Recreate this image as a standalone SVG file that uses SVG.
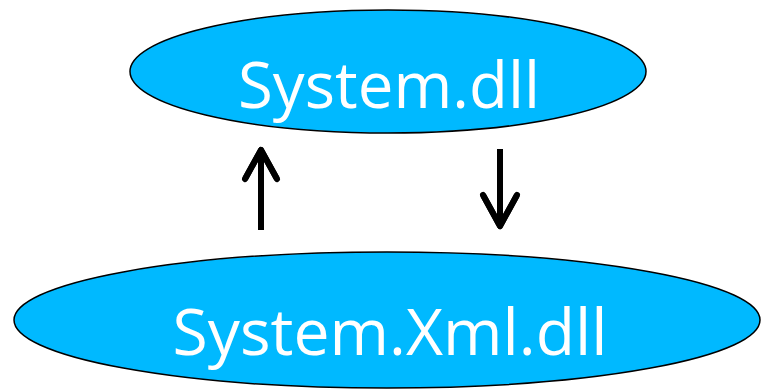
<svg xmlns="http://www.w3.org/2000/svg" width="761" height="390" viewBox="0 0 761 390">
<style>
.node ellipse{fill:#00B9FF;stroke:#000;stroke-width:1.5}
.node text{fill:#fff;font-family:"Open Sans","Liberation Sans",sans-serif;font-size:64px;text-anchor:middle}
.conn{fill:none;stroke:#000;stroke-width:6;stroke-linecap:round;stroke-linejoin:round}
</style>
<rect width="761" height="390" fill="#fff"/>
<g id="system-dll" class="node">
<ellipse cx="388" cy="71.5" rx="258" ry="61.5"/>
<text x="389" y="108" textLength="302" lengthAdjust="spacingAndGlyphs">System.dll</text>
</g>
<g id="system-xml-dll" class="node">
<ellipse cx="387" cy="320" rx="373" ry="68"/>
<text x="390" y="355" textLength="435" lengthAdjust="spacingAndGlyphs">System.Xml.dll</text>
</g>
<g id="connectors">
<path class="conn" d="M261 230 V150 M245 179 L261 150 L277 179" style="stroke-linecap:butt"/>
<path class="conn" d="M245 179 L261 150 L277 179"/>
<path class="conn" d="M500 149 V226 M483 195 L500 226 L517 195" style="stroke-linecap:butt"/>
<path class="conn" d="M483 195 L500 226 L517 195"/>
</g>
</svg>
